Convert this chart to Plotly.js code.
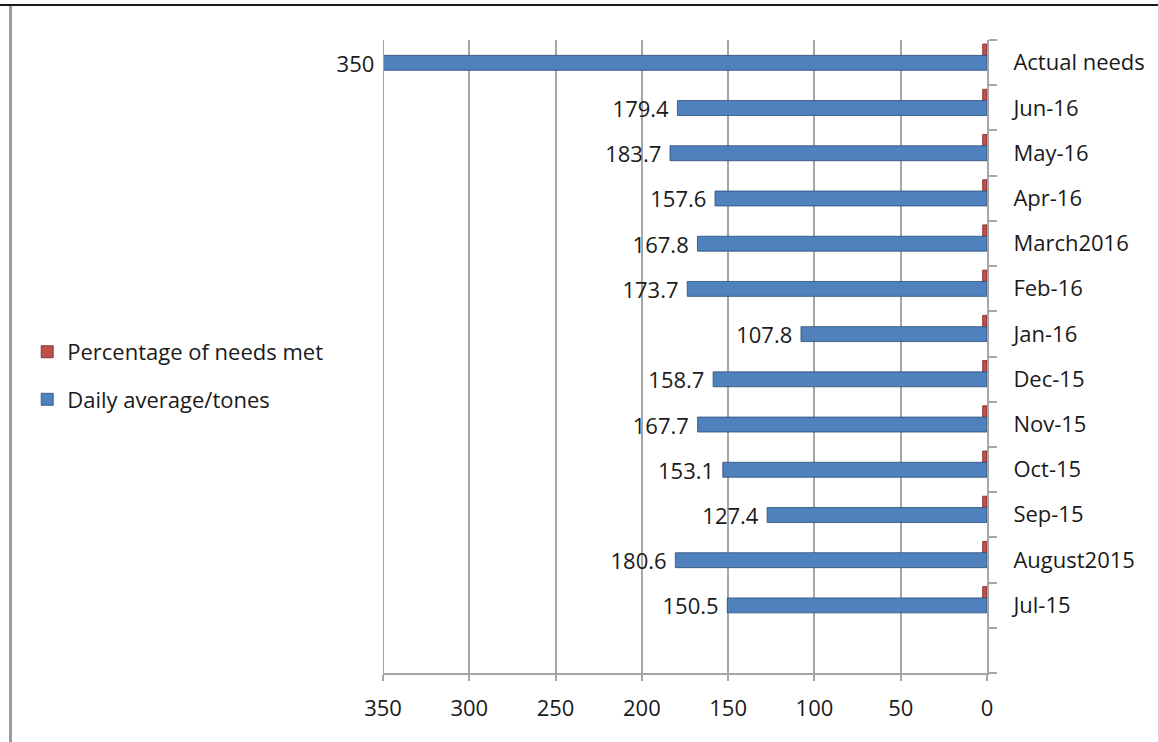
<!DOCTYPE html>
<html>
<head>
<meta charset="utf-8">
<script src="https://cdn.plot.ly/plotly-3.0.1.min.js"></script>
<style>
  html, body { margin: 0; padding: 0; background: #ffffff; }
  #wrap { position: relative; width: 1158px; height: 742px; overflow: hidden; }
  #chart { width: 1158px; height: 742px; }
  #topline { position: absolute; left: 0; top: 4px; width: 1158px; height: 2px; background: #1a1a1a; }
  #leftline { position: absolute; left: 9px; top: 6px; width: 3px; height: 740px; background: #9a9a9a; }
</style>
</head>
<body>
<div id="wrap">
  <div id="chart"></div>
  <div id="topline"></div>
  <div id="leftline"></div>
</div>
<script>
// Categories from bottom to top (the empty first entry is the blank row under Jul-15)
const categories = ["", "Jul-15", "August2015", "Sep-15", "Oct-15", "Nov-15", "Dec-15",
                    "Jan-16", "Feb-16", "March2016", "Apr-16", "May-16", "Jun-16", "Actual needs"];
const monthCategories = categories.slice(1);
const dailyAverage = [150.5, 180.6, 127.4, 153.1, 167.7, 158.7, 107.8, 173.7, 167.8, 157.6, 183.7, 179.4, 350];
const needsMet = [2.5, 2.5, 2.5, 2.5, 2.5, 2.5, 2.5, 2.5, 2.5, 2.5, 2.5, 2.5, 2.5];
const xTicks = [0, 50, 100, 150, 200, 250, 300, 350];

const FONT = "'Open Sans', sans-serif";
const FS = 22;

const red = {
  type: "bar",
  orientation: "h",
  name: "Percentage of needs met",
  y: monthCategories,
  x: needsMet,
  width: 0.31,
  offset: 0.10,
  marker: { color: "#c0504d", line: { color: "#7a2220", width: 0.8 } },
  legendgroup: "a",
  hoverinfo: "x+y"
};

const blue = {
  type: "bar",
  orientation: "h",
  name: "Daily average/tones",
  y: monthCategories,
  x: dailyAverage,
  width: 0.33,
  offset: -0.17,
  marker: { color: "#4f81bd", line: { color: "#2c4d75", width: 0.8 } },
  text: dailyAverage.map(v => String(v)),
  texttemplate: "%{text}\u00a0",
  textposition: "outside",
  constraintext: "none",
  textfont: { family: FONT, size: FS, color: "#1a1a1a" },
  cliponaxis: false,
  legendgroup: "b",
  hoverinfo: "x+y"
};

const layout = {
  width: 1158,
  height: 742,
  margin: { l: 383, r: 171, t: 40, b: 69 },
  paper_bgcolor: "#ffffff",
  plot_bgcolor: "#ffffff",
  barmode: "overlay",
  showlegend: true,
  font: { family: FONT, size: FS, color: "#1a1a1a" },
  legend: {
    xref: "container", yref: "container",
    x: 0.0235, y: 0.554, xanchor: "left", yanchor: "top",
    traceorder: "grouped",
    tracegroupgap: 16,
    font: { family: FONT, size: FS, color: "#1a1a1a" },
    itemwidth: 30,
    bgcolor: "rgba(0,0,0,0)"
  },
  shapes: [
    { type: "line", xref: "x", yref: "paper", x0: 350, x1: 350, y0: 0, y1: 1,
      line: { color: "#a6a6a6", width: 2 } }
  ],
  xaxis: {
    range: [350, 0],
    tickvals: xTicks,
    ticktext: xTicks.map(String),
    showgrid: true,
    gridcolor: "#a6a6a6",
    gridwidth: 2,
    zeroline: false,
    showline: true,
    linecolor: "#a6a6a6",
    linewidth: 2,
    ticks: "outside",
    ticklen: 6,
    tickcolor: "#a6a6a6",
    tickwidth: 2,
    tickfont: { family: FONT, size: FS, color: "#1a1a1a" },
    ticklabelstandoff: 9,
    fixedrange: true
  },
  yaxis: {
    type: "category",
    categoryorder: "array",
    categoryarray: categories,
    range: [-0.5, 13.5],
    side: "right",
    showgrid: false,
    zeroline: false,
    showline: true,
    linecolor: "#a6a6a6",
    linewidth: 2,
    ticks: "outside",
    tickson: "boundaries",
    ticklen: 8,
    tickcolor: "#a6a6a6",
    tickwidth: 2,
    tickfont: { family: FONT, size: FS, color: "#1a1a1a" },
    ticklabelstandoff: 20,
    fixedrange: true
  }
};

Plotly.newPlot("chart", [red, blue], layout, { displayModeBar: false, staticPlot: true });
</script>
</body>
</html>
